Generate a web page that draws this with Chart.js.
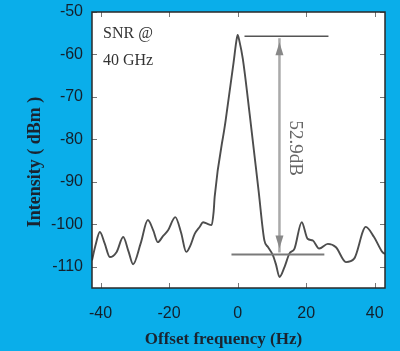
<!DOCTYPE html>
<html>
<head>
<meta charset="utf-8">
<script src="https://cdn.jsdelivr.net/npm/chart.js@4.4.1/dist/chart.umd.min.js"></script>
<style>
  html, body { margin:0; padding:0; background:#0aaeea; }
  canvas { display:block; }
</style>
</head>
<body>
<canvas id="snr" width="400" height="351"></canvas>
<script>
// spectrum trace
const offsetHz = [-42.5, -41.5, -40.2, -38.8, -37.3, -35.3, -33.4, -31.8, -30.5, -28.3,
  -26.2, -24.6, -23.3, -21.8, -20.3, -18.2, -16.5, -15.0, -13.8, -12.5,
  -11.0, -10.1, -9.1, -7.6, -7.0, -6.7, -3.5, -1.2, -0.4, 0.0,
  0.5, 1.5, 3.5, 6.1, 7.8, 8.8, 10.3, 11.2, 12.2, 13.7,
  15.1, 16.6, 18.7, 20.4, 21.9, 23.8, 26.3, 28.7, 31.6, 34.0,
  37.4, 39.8, 42.2, 43.0];
const intensityDbm = [-108.5, -105, -101.8, -104.5, -107.7, -106.5, -103, -106.5, -109.4, -104.5,
  -99, -101.5, -104.2, -102.8, -101.4, -98.3, -102, -106.5, -105, -102.2,
  -100.5, -99.5, -99.8, -100.2, -97, -93.5, -75.5, -62, -57, -55.4,
  -56.8, -61, -74, -92, -103.8, -105.3, -107.3, -109.5, -112.4, -110,
  -106.9, -105.7, -99.5, -103.4, -103.8, -105.7, -104.6, -105.4, -108.9, -108.1,
  -100.6, -103, -106.5, -107];

const xTicks = [-40, -20, 0, 20, 40];
const yTicks = [-110, -100, -90, -80, -70, -60, -50];
const xRange = [-42.5, 43];
const yRange = [-115, -50];

// SNR marker
const peakLevel = -55.7;
const noiseLevel = -107.1;
const arrowAt = 12.2;
const peakLineSpan = [2, 26.5];
const noiseLineSpan = [-1.8, 25.3];
const snrText = '52.9dB';
const noteLines = ['SNR @', '40 GHz'];
const xTitle = 'Offset frequency (Hz)';
const yTitle = 'Intensity ( dBm )';

const serif = '"Liberation Serif", "Times New Roman", serif';
const sans = '"Liberation Sans", Arial, sans-serif';

function arrowHead(ctx, x, tipY, dir){
  ctx.beginPath();
  ctx.moveTo(x, tipY);
  ctx.lineTo(x - 4, tipY + dir * 13);
  ctx.lineTo(x + 4, tipY + dir * 13);
  ctx.closePath();
  ctx.fill();
}

const frame = {
  id: 'frame',
  beforeDraw(chart){
    const {ctx, chartArea:a} = chart;
    ctx.save();
    ctx.fillStyle = '#fff';
    ctx.fillRect(a.left, a.top, a.right - a.left, a.bottom - a.top);
    ctx.restore();
  },
  afterDraw(chart){
    const {ctx, chartArea:a, scales:{x, y}} = chart;
    ctx.save();

    // inward ticks on all four sides
    ctx.strokeStyle = '#777'; ctx.lineWidth = 1;
    ctx.beginPath();
    xTicks.forEach(v => {
      const px = Math.round(x.getPixelForValue(v)) + .5;
      ctx.moveTo(px, a.bottom); ctx.lineTo(px, a.bottom - 5);
      ctx.moveTo(px, a.top); ctx.lineTo(px, a.top + 5);
    });
    yTicks.forEach(v => {
      const py = Math.round(y.getPixelForValue(v)) + .5;
      ctx.moveTo(a.left, py); ctx.lineTo(a.left + 5, py);
      ctx.moveTo(a.right, py); ctx.lineTo(a.right - 5, py);
    });
    ctx.stroke();

    ctx.strokeStyle = '#2a2a2a'; ctx.lineWidth = 1.5;
    ctx.strokeRect(a.left, a.top, a.right - a.left, a.bottom - a.top);

    // peak / floor lines and arrow
    const yP = y.getPixelForValue(peakLevel), yN = y.getPixelForValue(noiseLevel);
    const xa = x.getPixelForValue(arrowAt);
    ctx.strokeStyle = '#555'; ctx.lineWidth = 1.5;
    ctx.beginPath();
    ctx.moveTo(x.getPixelForValue(peakLineSpan[0]), yP);
    ctx.lineTo(x.getPixelForValue(peakLineSpan[1]), yP);
    ctx.stroke();
    ctx.strokeStyle = '#7a7a7a'; ctx.lineWidth = 2;
    ctx.beginPath();
    ctx.moveTo(x.getPixelForValue(noiseLineSpan[0]), yN);
    ctx.lineTo(x.getPixelForValue(noiseLineSpan[1]), yN);
    ctx.stroke();

    ctx.strokeStyle = '#aaa'; ctx.lineWidth = 2.5;
    ctx.beginPath(); ctx.moveTo(xa, yP + 2); ctx.lineTo(xa, yN - 2); ctx.stroke();
    ctx.fillStyle = '#888';
    arrowHead(ctx, xa, yP + 6, 1);
    arrowHead(ctx, xa, yN - 6, -1);

    // rotated SNR value
    ctx.save();
    ctx.translate(xa + 16, (yP + yN) / 2 + 3);
    ctx.rotate(Math.PI / 2);
    ctx.fillStyle = '#666';
    ctx.font = '19px ' + serif;
    ctx.textAlign = 'center'; ctx.textBaseline = 'middle';
    ctx.fillText(snrText, 0, 0);
    ctx.restore();

    // note in the corner
    ctx.fillStyle = '#333';
    ctx.font = '16px ' + serif;
    ctx.textAlign = 'left'; ctx.textBaseline = 'alphabetic';
    noteLines.forEach((t, i) => ctx.fillText(t, a.left + 11, a.top + 26 + i * 27));

    // axis titles
    ctx.fillStyle = '#1a2430';
    ctx.font = 'bold 17px ' + serif;
    ctx.textAlign = 'center'; ctx.textBaseline = 'middle';
    ctx.fillText(xTitle, (a.left + a.right) / 2 - 15, 340);
    ctx.save();
    ctx.translate(35, (a.top + a.bottom) / 2 + 12);
    ctx.rotate(-Math.PI / 2);
    ctx.font = 'bold 18px ' + serif;
    ctx.fillText(yTitle, 0, 0);
    ctx.restore();

    ctx.restore();
  }
};

new Chart(document.getElementById('snr').getContext('2d'), {
  type: 'line',
  data: {
    datasets: [{
      data: offsetHz.map((v, i) => ({x: v, y: intensityDbm[i]})),
      borderColor: '#4d4d4d', borderWidth: 1.9,
      pointRadius: 0, fill: false,
      cubicInterpolationMode: 'monotone'
    }]
  },
  options: {
    responsive: false, animation: false,
    layout: { padding: { left: 0, top: 12, right: 15, bottom: 0 } },
    plugins: { legend: { display: false }, tooltip: { enabled: false } },
    scales: {
      x: {
        type: 'linear', min: xRange[0], max: xRange[1],
        afterBuildTicks: s => { s.ticks = xTicks.map(v => ({value: v})); },
        afterFit: s => { s.height = 63; s.paddingLeft = 0; s.paddingRight = 0; },
        grid: { display: false, drawTicks: false },
        border: { display: false },
        ticks: { padding: 16, color: '#14202c', font: { family: sans, size: 16 } }
      },
      y: {
        min: yRange[0], max: yRange[1],
        afterBuildTicks: s => { s.ticks = yTicks.map(v => ({value: v})); },
        afterFit: s => { s.width = 92; s.paddingTop = 0; s.paddingBottom = 0; },
        grid: { display: false, drawTicks: false },
        border: { display: false },
        ticks: { padding: 9, color: '#14202c', font: { family: sans, size: 16 } }
      }
    }
  },
  plugins: [frame]
});
</script>
</body>
</html>
